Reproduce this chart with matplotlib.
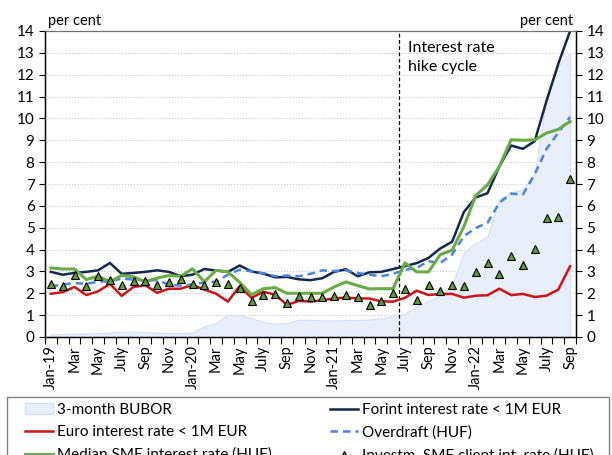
#!/usr/bin/env python3

import numpy as np
import matplotlib
matplotlib.use("Agg")
import matplotlib.pyplot as plt
from matplotlib.patches import Patch, Rectangle
from matplotlib.lines import Line2D

plt.rcParams["font.family"] = ["Lato", "DejaVu Sans"]

# monthly, Jan-19 .. Sep-22
tick_labels = ["Jan-19", "Mar", "May", "July", "Sep", "Nov",
               "Jan-20", "Mar", "May", "July", "Sep", "Nov",
               "Jan-21", "Mar", "May", "July", "Sep", "Nov",
               "Jan-22", "Mar", "May", "July", "Sep"]

bubor = [0.12, 0.14, 0.15, 0.16, 0.18, 0.20, 0.24, 0.24, 0.22, 0.20, 0.18, 0.17,
         0.21, 0.49, 0.64, 1.02, 1.00, 0.86, 0.69, 0.61, 0.64, 0.79, 0.78, 0.76,
         0.76, 0.77, 0.78, 0.80, 0.85, 0.97, 1.07, 1.40, 1.65, 1.90, 2.40, 3.85,
         4.30, 4.60, 6.30, 6.60, 6.78, 7.45, 11.0, 12.4, 13.0]

forint = [2.98, 2.85, 2.93, 2.98, 3.05, 3.39, 2.89, 2.93, 2.98, 3.05, 2.98, 2.78,
          2.85, 3.11, 3.04, 2.98, 3.27, 3.00, 2.90, 2.73, 2.75, 2.64, 2.60, 2.69,
          2.98, 3.10, 2.78, 2.96, 2.98, 3.11, 3.24, 3.38, 3.62, 4.05, 4.36, 5.72,
          6.38, 6.58, 7.80, 8.76, 8.61, 8.96, 10.8, 12.5, 14.0]

euro = [1.98, 2.05, 2.29, 1.92, 2.09, 2.43, 1.88, 2.29, 2.37, 2.02, 2.21, 2.21,
        2.38, 2.17, 1.98, 1.62, 2.33, 1.79, 2.07, 1.94, 1.47, 1.65, 1.62, 1.68,
        1.77, 1.80, 1.77, 1.76, 1.63, 1.62, 1.79, 2.12, 1.92, 1.97, 1.97, 1.80,
        1.89, 1.91, 2.21, 1.92, 1.97, 1.83, 1.89, 2.17, 3.24]

median = [3.16, 3.11, 3.11, 2.63, 2.78, 2.53, 2.82, 2.75, 2.53, 2.70, 2.81, 2.78,
          3.12, 2.53, 3.05, 2.98, 2.50, 1.94, 2.21, 2.26, 2.00, 2.00, 2.00, 2.00,
          2.29, 2.52, 2.35, 2.20, 2.21, 2.21, 3.39, 2.98, 2.98, 3.77, 3.97, 5.05,
          6.47, 6.96, 7.80, 9.02, 9.00, 9.02, 9.33, 9.50, 9.86]

overdraft = [2.32, 2.40, 2.47, 2.43, 2.53, 2.55, 2.67, 2.63, 2.58, 2.60, 2.40, 2.35,
             2.40, 2.50, 2.53, 2.85, 3.08, 3.00, 2.92, 2.78, 2.81, 2.78, 2.89, 3.05,
             3.02, 3.05, 2.93, 2.85, 2.78, 2.89, 3.07, 3.16, 3.47, 3.39, 3.77, 4.61,
             4.99, 5.22, 6.14, 6.56, 6.52, 7.45, 8.60, 9.35, 10.07]

invest = [2.43, 2.32, 2.84, 2.35, 2.78, 2.60, 2.37, 2.55, 2.56, 2.40, 2.50, 2.64,
          2.41, 2.40, 2.52, 2.43, 2.23, 1.63, 1.92, 1.98, 1.57, 1.88, 1.83, 1.83,
          1.89, 1.92, 1.83, 1.47, 1.65, 2.00, 2.21, 1.68, 2.38, 2.10, 2.38, 2.35,
          2.96, 3.37, 2.89, 3.71, 3.30, 4.02, 5.43, 5.51, 7.22]

HIKE_START = 30  # July 2021

x = np.arange(len(bubor))

fig = plt.figure(figsize=(6.12, 4.55), dpi=100)
ax = fig.add_axes([45 / 612, 1 - 337 / 455, 531 / 612, 306 / 455])

ax.fill_between(x, 0, bubor, color="#e9effa", edgecolor="#d3dff5", lw=0.8, zorder=1)
ax.plot(x, forint, color="#13284b", lw=1.8, zorder=3)
ax.plot(x, euro, color="#cc1417", lw=1.8, zorder=3)
ax.plot(x, median, color="#6aab45", lw=2.2, zorder=4)
ax.plot(x, overdraft, color="#4b82e6", lw=1.8, ls=(0, (3, 2)), zorder=3)
ax.plot(x, invest, ls="none", marker="^", ms=6, mfc="#5f9a38", mec="black",
        mew=0.8, zorder=5)

ax.axvline(HIKE_START - 0.5, color="black", lw=0.9, ls=(0, (3, 2)), zorder=2)
ax.text(HIKE_START + 0.3, 13.55, "Interest rate\nhike cycle", fontsize=11.5,
        va="top", ha="left", linespacing=1.5)

ax.set_xlim(-0.5, len(x) - 0.5)
ax.set_ylim(0, 14)
ax.set_yticks(range(0, 15))
ax.grid(axis="y", color="#c8c8c8", ls=":", lw=0.8)
ax.set_axisbelow(True)

ax.set_xticks(x[::2])
ax.set_xticklabels(tick_labels, rotation=90, fontsize=10.5)
ax.set_xticks(np.arange(-0.5, len(x), 1), minor=True)
ax.tick_params(axis="x", which="major", length=0, pad=6)
ax.tick_params(axis="x", which="minor", length=5, width=0.8)
ax.tick_params(axis="y", labelsize=11, length=4, width=0.8)

for s in ["left", "right", "bottom"]:
    ax.spines[s].set_linewidth(1.0)
ax.spines["top"].set_color("#6e6e6e")

ax2 = ax.twinx()
ax2.set_ylim(0, 14)
ax2.set_yticks(range(0, 15))
ax2.tick_params(axis="y", labelsize=11, length=4, width=0.8)
ax2.spines["top"].set_color("#6e6e6e")

ax.text(0.005, 1.01, "per cent", transform=ax.transAxes, fontsize=10.5,
        ha="left", va="bottom")
ax.text(0.995, 1.01, "per cent", transform=ax.transAxes, fontsize=10.5,
        ha="right", va="bottom")

# legend frame runs off the bottom of the figure, as in the source
fig.patches.append(Rectangle((7 / 612, -0.05), 602 / 612, 0.05 + 1 - 397 / 455,
                             transform=fig.transFigure, fill=False,
                             edgecolor="#808080", lw=1.0))

left_handles = [
    Patch(facecolor="#e9effa", edgecolor="#d3dff5"),
    Line2D([], [], color="#cc1417", lw=1.8),
    Line2D([], [], color="#6aab45", lw=2.2),
]
left_labels = ["3-month BUBOR", "Euro interest rate < 1M EUR",
               "Median SME interest rate (HUF)"]
right_handles = [
    Line2D([], [], color="#13284b", lw=1.8),
    Line2D([], [], color="#4b82e6", lw=1.8, ls=(0, (3, 2))),
    Line2D([], [], ls="none", marker="^", ms=5, mfc="#5f9a38", mec="black", mew=0.8),
]
right_labels = ["Forint interest rate < 1M EUR", "Overdraft (HUF)",
                "Investm. SME client int. rate (HUF)"]

leg_kw = dict(loc="upper left", fontsize=11, frameon=False, handlelength=1.85,
              handletextpad=0.25, labelspacing=0.55, borderpad=0, borderaxespad=0)
leg1 = fig.legend(left_handles, left_labels,
                  bbox_to_anchor=(25 / 612, 1 - 403 / 455), **leg_kw)
leg2 = fig.legend(right_handles, right_labels,
                  bbox_to_anchor=(330 / 612, 1 - 403 / 455), **leg_kw)

fig.savefig("out.png", dpi=100)
